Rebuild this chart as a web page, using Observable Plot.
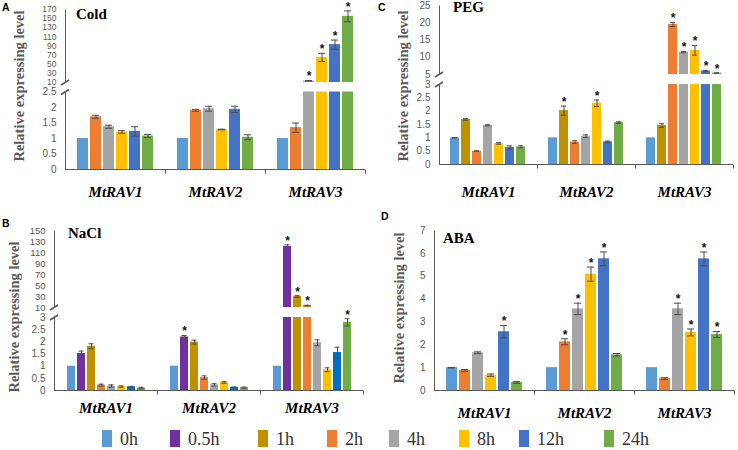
<!DOCTYPE html>
<html>
<head>
<meta charset="utf-8">
<script src="https://cdn.jsdelivr.net/npm/d3@7"></script>
<script src="https://cdn.jsdelivr.net/npm/@observablehq/plot@0.6"></script>
<style>
  html, body { margin: 0; padding: 0; background: #fff; }
  #root { position: relative; width: 738px; height: 450px; overflow: hidden; background: #fff; }
  .ytitle { position: absolute; font-family: "Liberation Serif", serif; font-weight: bold; font-size: 14.5px;
            color: #595959; white-space: nowrap; transform: translate(-50%, -50%) rotate(-90deg); line-height: 1; }
  .ptitle { position: absolute; font-family: "Liberation Serif", serif; font-weight: bold; font-size: 15px;
            line-height: 15px; color: #000; white-space: nowrap; }
  .letter { position: absolute; font-family: "Liberation Sans", Arial, sans-serif; font-weight: bold;
            font-size: 10.5px; line-height: 10.5px; color: #000; }
  .sw { position: absolute; width: 10px; height: 17px; }
  .lab { position: absolute; font-family: "Liberation Serif", serif; font-size: 18px; line-height: 18px;
         color: #333; white-space: nowrap; }
</style>
</head>
<body>
<div id="root"></div>
<script>
// ---------------- DATA ----------------
const genes = ["MtRAV1", "MtRAV2", "MtRAV3"];
const legendTimes = ["0h", "0.5h", "1h", "2h", "4h", "8h", "12h", "24h"];
const legendColors = ["#5B9BD5", "#7030A0", "#BF9000", "#ED7D31", "#A5A5A5", "#FFC000", "#4472C4", "#70AD47"];

// A: Cold
const coldTimes = ["0h", "2h", "4h", "8h", "12h", "24h"];
const coldValues = [
  [1, 1.70, 1.38, 1.21, 1.23, 1.08],
  [1, 1.91, 1.96, 1.29, 1.94, 1.04],
  [1, 1.35, 13, 65, 93, 155]
];
const coldErrors = [
  [0, 0.05, 0.05, 0.04, 0.15, 0.05],
  [0, 0.03, 0.08, 0.01, 0.10, 0.08],
  [0, 0.15, 1.5, 9, 10, 12]
];
const coldSig = [
  [0, 0, 0, 0, 0, 0],
  [0, 0, 0, 0, 0, 0],
  [0, 0, 1, 1, 1, 1]
];
const coldLowerTicks = [0, 0.5, 1, 1.5, 2, 2.5];
const coldUpperTicks = [10, 30, 50, 70, 90, 110, 130, 150, 170];

// B: NaCl
const naclTimes = ["0h", "0.5h", "1h", "2h", "4h", "8h", "12h", "24h"];
const naclValues = [
  [1, 1.52, 1.82, 0.22, 0.18, 0.16, 0.15, 0.10],
  [1, 2.20, 1.99, 0.53, 0.23, 0.33, 0.13, 0.12],
  [1, 121, 30, 13.6, 1.96, 0.85, 1.56, 2.80]
];
const naclErrors = [
  [0, 0.10, 0.10, 0.04, 0.05, 0.03, 0.02, 0.03],
  [0, 0.06, 0.08, 0.07, 0.05, 0.03, 0.01, 0.02],
  [0, 3, 1.5, 0.5, 0.12, 0.08, 0.22, 0.15]
];
const naclSig = [
  [0, 0, 0, 0, 0, 0, 0, 0],
  [0, 1, 0, 0, 0, 0, 0, 0],
  [0, 1, 1, 1, 0, 0, 0, 1]
];
const naclLowerTicks = [0, 0.5, 1, 1.5, 2, 2.5, 3];
const naclUpperTicks = [10, 30, 50, 70, 90, 110, 130, 150];

// C: PEG
const pegTimes = ["0h", "1h", "2h", "4h", "8h", "12h", "24h"];
const pegValues = [
  [1, 1.69, 0.50, 1.47, 0.79, 0.64, 0.66],
  [1, 2.02, 0.84, 1.06, 2.30, 0.85, 1.57],
  [1, 1.46, 19.5, 11.5, 12.0, 6.0, 5.4]
];
const pegErrors = [
  [0.01, 0.03, 0.01, 0.02, 0.03, 0.06, 0.04],
  [0, 0.17, 0.05, 0.05, 0.12, 0.03, 0.03],
  [0, 0.07, 0.6, 0.2, 1.4, 0.2, 0.1]
];
const pegSig = [
  [0, 0, 0, 0, 0, 0, 0],
  [0, 1, 0, 0, 1, 0, 0],
  [0, 0, 1, 1, 1, 1, 1]
];
const pegLowerTicks = [0, 0.5, 1, 1.5, 2, 2.5, 3];
const pegUpperTicks = [5, 10, 15, 20, 25];

// D: ABA
const abaTimes = ["0h", "2h", "4h", "8h", "12h", "24h"];
const abaValues = [
  [1, 0.88, 1.65, 0.67, 2.57, 0.35],
  [1, 2.13, 3.57, 5.09, 5.76, 1.56],
  [1, 0.52, 3.57, 2.54, 5.76, 2.45]
];
const abaErrors = [
  [0.01, 0.04, 0.04, 0.05, 0.27, 0.04],
  [0, 0.13, 0.25, 0.31, 0.30, 0.06],
  [0, 0.04, 0.25, 0.15, 0.30, 0.13]
];
const abaSig = [
  [0, 0, 0, 0, 1, 0],
  [0, 1, 1, 1, 1, 0],
  [0, 0, 1, 1, 1, 1]
];
const abaTicks = [0, 1, 2, 3, 4, 5, 6, 7];

// ---------------- HELPERS ----------------
const AXIS = "#595959";
const ERR = "#4d4d4d";
const root = document.getElementById("root");

function makeRows(times, values, errors, sigs) {
  const out = [];
  genes.forEach((g, gi) => times.forEach((t, ti) =>
    out.push({gene: g, time: t, value: values[gi][ti], err: errors[gi][ti], sig: sigs[gi][ti]})));
  return out;
}
function colorsFor(times, overrides = {}) {
  return times.map(t => overrides[t] || legendColors[legendTimes.indexOf(t)]);
}
const vline = h => ({draw(ctx) { ctx.moveTo(0, 0); ctx.lineTo(0, -h); }});
const tickDown = {draw(ctx) { ctx.moveTo(0, 0); ctx.lineTo(0, 4); }};
const slash = {draw(ctx) { ctx.moveTo(-4.5, 2.5); ctx.lineTo(3.5, -2.5); }};

function part(p, o) {
  const [lo, hi] = o.domain;
  const top = d => d.value + d.err;
  const rows = p.rows;
  const errRows = rows.filter(d => d.err > 0);
  const sigRows = rows.filter(d => d.sig && top(d) >= lo && top(d) <= hi);
  const frameH = o.yBottom - o.yTop;
  const marginLeft = p.x0 - p.left;
  const marginRight = p.left + p.width - p.x1;
  const marginTop = o.yTop - o.top;
  const marginBottom = o.top + o.height - o.yBottom;

  const marks = [
    Plot.barY(rows, {fx: "gene", x: "time", y: "value", fill: "time", clip: true}),
    Plot.ruleX(errRows, {fx: "gene", x: "time", y1: d => d.value - d.err, y2: top, stroke: ERR, strokeWidth: 1, clip: true}),
    Plot.tickY(errRows, {fx: "gene", x: "time", y: top, stroke: ERR, strokeWidth: 1, insetLeft: p.cap, insetRight: p.cap, clip: true}),
    Plot.tickY(errRows, {fx: "gene", x: "time", y: d => d.value - d.err, stroke: ERR, strokeWidth: 1, insetLeft: p.cap, insetRight: p.cap, clip: true}),
    Plot.text(sigRows, {fx: "gene", x: "time", y: top, text: () => "*", dy: -4, fontSize: 12, fontWeight: "bold",
      fontFamily: "Liberation Sans, Arial, sans-serif", fill: "#111"}),
    Plot.axisY({ticks: o.ticks, tickFormat: d => String(d), tickSize: 0, tickPadding: 9, fontSize: o.tickFont || 10,
      fill: "#595959", fontFamily: "Liberation Sans, Arial, sans-serif", label: null}),
    Plot.dot([genes[0]], {fx: d => d, frameAnchor: "bottom-left", symbol: vline(frameH), fill: "none", stroke: AXIS, strokeWidth: 1})
  ];
  if (o.xAxis) {
    marks.push(Plot.ruleY([0], {stroke: AXIS, strokeWidth: 1}));
    marks.push(Plot.dot(genes, {fx: d => d, frameAnchor: "bottom-right", symbol: tickDown, fill: "none", stroke: AXIS, strokeWidth: 1}));
    marks.push(Plot.text(genes, {fx: d => d, text: d => d, frameAnchor: "bottom", lineAnchor: "top", dy: p.labelPad,
      fontSize: 15, fontWeight: "bold", fontStyle: "italic", fontFamily: "Liberation Serif, Times New Roman, serif", fill: "#000"}));
  }
  if (o.breakTop) marks.push(Plot.dot([genes[0]], {fx: d => d, frameAnchor: "top-left", symbol: slash, fill: "none", stroke: AXIS, strokeWidth: 1.6}));
  if (o.breakBottom) marks.push(Plot.dot([genes[0]], {fx: d => d, frameAnchor: "bottom-left", symbol: slash, fill: "none", stroke: AXIS, strokeWidth: 1.6}));

  const svg = Plot.plot({
    width: p.width, height: o.height,
    marginLeft, marginRight, marginTop, marginBottom,
    fx: {domain: genes, padding: 0, axis: null, label: null},
    x: {domain: p.times, paddingInner: p.pi, paddingOuter: p.po, axis: null},
    y: {domain: o.domain},
    color: {domain: p.times, range: p.colors},
    style: {position: "absolute", left: p.left + "px", top: o.top + "px", background: "transparent", overflow: "visible"},
    marks
  });
  root.appendChild(svg);
}

function html(cls, text, styles) {
  const el = document.createElement("div");
  el.className = cls;
  el.textContent = text;
  Object.assign(el.style, styles);
  root.appendChild(el);
  return el;
}

// ---------------- PANELS ----------------
// A: Cold (broken axis)
const A = {rows: makeRows(coldTimes, coldValues, coldErrors, coldSig), times: coldTimes, colors: colorsFor(coldTimes),
  left: 0, width: 370, x0: 65, x1: 365, pi: 0.18, po: 0.8, cap: 2, labelPad: 17};
part(A, {domain: [10, 170], ticks: coldUpperTicks, tickFont: 8.5, top: 0, height: 84, yTop: 9, yBottom: 82, breakBottom: true});
part(A, {domain: [0, 2.5], ticks: coldLowerTicks, top: 84, height: 122, yTop: 91.5, yBottom: 169, breakTop: true, xAxis: true});

// B: NaCl (broken axis)
const B = {rows: makeRows(naclTimes, naclValues, naclErrors, naclSig), times: naclTimes, colors: colorsFor(naclTimes, {"12h": "#0070C0"}),
  left: 0, width: 370, x0: 53, x1: 363, pi: 0.2, po: 0.85, cap: 1.5, labelPad: 12};
part(B, {domain: [10, 150], ticks: naclUpperTicks, tickFont: 9.5, top: 210, height: 99, yTop: 230, yBottom: 307, breakBottom: true});
part(B, {domain: [0, 3], ticks: naclLowerTicks, top: 309, height: 125, yTop: 317, yBottom: 390, breakTop: true, xAxis: true});

// C: PEG (broken axis)
const C = {rows: makeRows(pegTimes, pegValues, pegErrors, pegSig), times: pegTimes, colors: colorsFor(pegTimes),
  left: 370, width: 368, x0: 438, x1: 733, pi: 0.14, po: 0.84, cap: 2, labelPad: 22};
part(C, {domain: [5, 25], ticks: pegUpperTicks, top: 0, height: 76, yTop: 5, yBottom: 74, breakBottom: true});
part(C, {domain: [0, 3], ticks: pegLowerTicks, top: 76, height: 124, yTop: 84, yBottom: 164, breakTop: true, xAxis: true});

// D: ABA
const D = {rows: makeRows(abaTimes, abaValues, abaErrors, abaSig), times: abaTimes, colors: colorsFor(abaTimes),
  left: 370, width: 368, x0: 433, x1: 735, pi: 0.18, po: 0.8, cap: 2, labelPad: 17};
part(D, {domain: [0, 7], ticks: abaTicks, top: 210, height: 224, yTop: 230, yBottom: 390, xAxis: true});

// ---------------- TEXT ----------------
const yTitle = "Relative expressing level";
html("ytitle", yTitle, {left: "19px", top: "86px"});
html("ytitle", yTitle, {left: "14px", top: "317px"});
html("ytitle", yTitle, {left: "403px", top: "86px"});
html("ytitle", yTitle, {left: "399px", top: "308px"});

html("ptitle", "Cold", {left: "76px", top: "6.5px"});
html("ptitle", "PEG", {left: "453px", top: "0px"});
html("ptitle", "NaCl", {left: "68px", top: "225.5px"});
html("ptitle", "ABA", {left: "443px", top: "230.5px"});

html("letter", "A", {left: "2px", top: "2px"});
html("letter", "C", {left: "378px", top: "2px"});
html("letter", "B", {left: "2px", top: "218px"});
html("letter", "D", {left: "381px", top: "211px"});

// ---------------- LEGEND ----------------
const legendLeft = [102, 170, 258, 327, 389, 459, 519, 604];
legendTimes.forEach((t, i) => {
  html("sw", "", {left: legendLeft[i] + "px", top: "430px", background: legendColors[i]});
  html("lab", t, {left: (legendLeft[i] + 18) + "px", top: "430px"});
});
</script>
</body>
</html>
